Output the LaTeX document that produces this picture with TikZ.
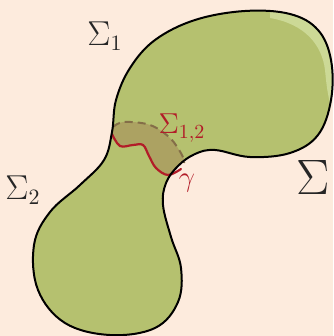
\documentclass[tikz,border=0pt]{standalone}
\usepackage{amsmath,amssymb}
\usepackage{xcolor}
\usetikzlibrary{positioning}

\definecolor{bgpeach}{RGB}{253,235,221}
\definecolor{blobgreen}{RGB}{181,193,111}
\definecolor{blobshine}{RGB}{204,217,150}
\definecolor{overlapbrown}{RGB}{172,162,98}
\definecolor{dashbrown}{RGB}{132,110,72}
\definecolor{gammared}{RGB}{178,28,40}

\newcommand{\blobpath}{plot[smooth cycle, tension=0.62] coordinates {
  (112,132) (116,100) (130,68) (155,40) (195,20) (245,11) (290,14) (318,30)
  (331,60) (331,100) (318,135) (290,153) (250,157) (215,150) (195,154)
  (178,166) (166,183) (163,205) (171,237) (181,268) (178,302) (155,328)
  (110,335) (65,323) (38,290) (34,245) (50,212) (80,185) (104,160)}}

\begin{document}
\begin{tikzpicture}[
  x=0.5pt, y=-0.5pt,
  outline/.style={draw=black, line width=1pt, line join=round},
  curvegamma/.style={draw=gammared, line width=1.1pt, line cap=round},
  overlapedge/.style={draw=dashbrown, line width=1pt, dashed, dash pattern=on 4pt off 2.5pt},
  lbl/.style={inner sep=0pt, text=black!85}
]

  % Background and bounding box
  \fill[bgpeach] (0,0) rectangle (333,336);
  \useasboundingbox (0,0) rectangle (333,336);

  % The surface Sigma
  \fill[blobgreen] \blobpath;
  \begin{scope}
    \clip \blobpath;
    % shine on the upper right rim
    \fill[blobshine] (270,18) .. controls (305,24) and (322,45) .. (325,70)
      .. controls (327,90) .. (333,118) -- (345,118) -- (345,5) -- (270,5) -- cycle;
    % overlap region Sigma_{1,2}
    \fill[overlapbrown]
      plot[smooth, tension=0.6] coordinates {(108,128) (124,122) (150,125) (170,138) (182,155) (186,166)}
      -- plot[smooth, tension=0.6] coordinates {(181,169) (168,175) (156,168) (149,156) (143,145) (133,145) (120,146) (108,133)}
      -- cycle;
  \end{scope}

  % boundary of the overlap
  \draw[overlapedge] plot[smooth, tension=0.6] coordinates {(113,127) (124,122) (150,125) (170,138) (182,155) (184,163)};
  \draw[curvegamma] plot[smooth, tension=0.6] coordinates {(112,134) (120,146) (133,145) (143,145) (149,156) (156,168) (168,175) (181,169)};

  % outline
  \draw[outline] \blobpath;

  % Labels
  \node[lbl, font=\fontsize{16}{16}\selectfont] (sig1) at (105,36) {$\Sigma_1$};
  \node[lbl, font=\fontsize{16}{16}\selectfont] (sig2) at (23,190) {$\Sigma_2$};
  \node[lbl, font=\fontsize{25}{25}\selectfont] (sig) at (313,178) {$\Sigma$};
  \node[lbl, text=gammared, font=\fontsize{14}{14}\selectfont] (sig12) at (182,128) {$\Sigma_{1,2}$};
  \node[lbl, text=gammared, font=\fontsize{14}{14}\selectfont] (gam) at (187,183) {$\gamma$};

\end{tikzpicture}
\end{document}
